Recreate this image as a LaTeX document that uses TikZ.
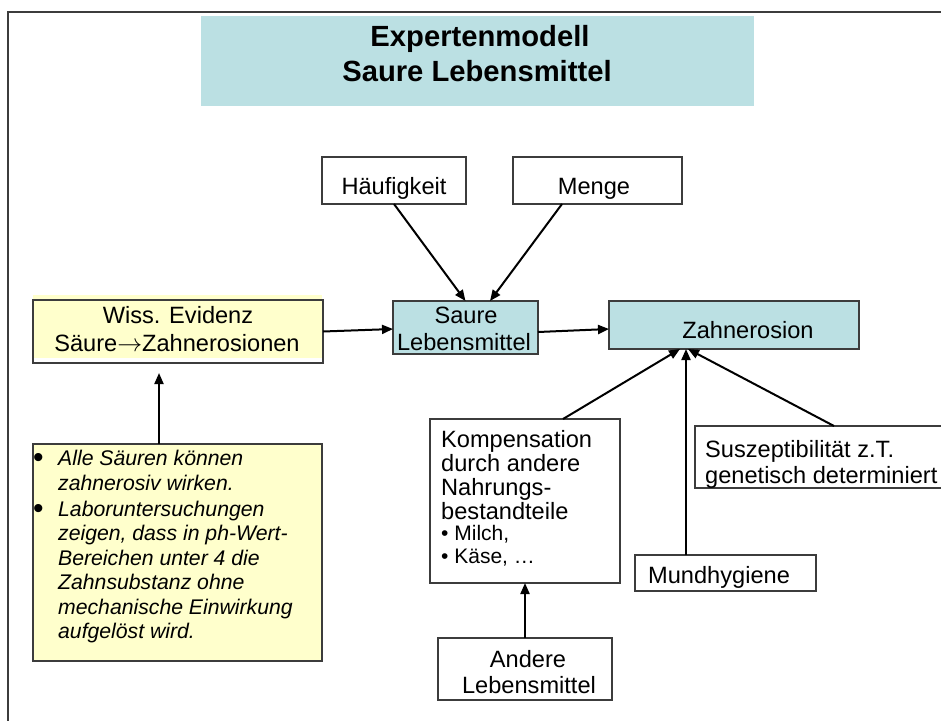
\documentclass[tikz,border=0pt]{standalone}
\usepackage{fontspec}
\setmainfont{Liberation Sans}
\usetikzlibrary{arrows.meta}
\definecolor{tealfill}{HTML}{BBE0E3}
\definecolor{yellowfill}{HTML}{FFFFCC}
\definecolor{edgegray}{HTML}{3C3C3C}
\tikzset{
  box/.style={draw=edgegray, line width=1.1pt, inner sep=0pt, outer sep=0pt},
  conn/.style={line width=2pt, draw=black, -{Triangle[length=11pt,width=9pt]}},
  body/.style={font=\fontsize{23.6}{27}\selectfont, inner sep=0pt, text=black},
  small/.style={font=\fontsize{21}{24}\selectfont, inner sep=0pt, text=black},
  dotfont/.style={font=\fontsize{30}{30}\selectfont, inner sep=0pt, text=black},
  ital/.style={font=\fontsize{21.2}{24}\selectfont\itshape, inner sep=0pt, text=black},
  titletext/.style={font=\fontsize{29.2}{34}\selectfont\bfseries, inner sep=0pt, text=black}
}
\begin{document}
\begin{tikzpicture}[x=1pt, y=-1pt]
\useasboundingbox (0,0) rectangle (941,720);
\clip (0,0) rectangle (941,720);
\fill[white] (0,0) rectangle (941,720);
% outer frame
\draw[edgegray, line width=1.5pt] (8,730) -- (8,12) -- (960,12);
% title
\node[fill=tealfill, inner sep=0pt, minimum width=553pt, minimum height=90pt] (title) at (477.5,61) {};
\node[titletext, anchor=base] (title1) at (480,46) {Expertenmodell};
\node[titletext, anchor=base] (title2) at (477,81) {Saure Lebensmittel};
% boxes
\node[box, minimum width=144pt, minimum height=47pt] (haeuf) at (394,180.5) {};
\node[body, anchor=base] (haeufT) at (394,194) {Häufigkeit};
\node[box, minimum width=169pt, minimum height=47pt] (menge) at (597.5,180.5) {};
\node[body, anchor=base] (mengeT) at (594,194) {Menge};
\fill[yellowfill] (33,295) rectangle (322,358);
\node[box, minimum width=290pt, minimum height=63pt] (wiss) at (178,331.5) {};
\node[body, anchor=base] (wissT1) at (178,323) {Wiss. Evidenz};
\node[body, anchor=base] (wissT2) at (177,351) {Säure$\rightarrow$Zahnerosionen};
\node[box, fill=tealfill, minimum width=145pt, minimum height=53pt] (saure) at (465.5,327.5) {};
\node[body, anchor=base] (saureT1) at (466,323) {Saure};
\node[body, anchor=base] (saureT2) at (464,350) {Lebensmittel};
\node[box, fill=tealfill, minimum width=250pt, minimum height=48pt] (zahn) at (734,325) {};
\node[body, anchor=base] (zahnT) at (748,338) {Zahnerosion};
\node[box, fill=yellowfill, minimum width=289pt, minimum height=217pt] (bullets) at (177.5,552.5) {};
\node[dotfont, anchor=base west] (b1) at (33,467) {•};
\node[dotfont, anchor=base west] (b2) at (33,518) {•};
\node[ital, anchor=base west] (bl1) at (58,465) {Alle Säuren können};
\node[ital, anchor=base west] (bl2) at (58,490) {zahnerosiv wirken.};
\node[ital, anchor=base west] (bl3) at (58,516) {Laboruntersuchungen};
\node[ital, anchor=base west] (bl4) at (58,540) {zeigen, dass in ph-Wert-};
\node[ital, anchor=base west] (bl5) at (58,565) {Bereichen unter 4 die};
\node[ital, anchor=base west] (bl6) at (58,589) {Zahnsubstanz ohne};
\node[ital, anchor=base west] (bl7) at (58,614) {mechanische Einwirkung};
\node[ital, anchor=base west] (bl8) at (58,638) {aufgelöst wird.};
\node[box, fill=white, minimum width=190pt, minimum height=164pt] (komp) at (525,501) {};
\node[body, anchor=base west] (k1) at (441,447) {Kompensation};
\node[body, anchor=base west] (k2) at (441,471) {durch andere};
\node[body, anchor=base west] (k3) at (441,495) {Nahrungs-};
\node[body, anchor=base west] (k4) at (441,519) {bestandteile};
\node[small, anchor=base west] (k5) at (441,540) {• Milch,};
\node[small, anchor=base west] (k6) at (441,563) {• Käse, …};
\node[box, fill=white, minimum width=265pt, minimum height=62pt] (susz) at (827.5,457) {};
\node[body, anchor=base west] (s1) at (705,457) {Suszeptibilität z.T.};
\node[body, anchor=base west] (s2) at (705,483) {genetisch determiniert};
\node[box, fill=white, minimum width=181pt, minimum height=36pt] (mund) at (725.5,573) {};
\node[body, anchor=base west] (mundT) at (648,583) {Mundhygiene};
\node[box, fill=white, minimum width=174pt, minimum height=62pt] (andere) at (525,669) {};
\node[body, anchor=base] (andereT1) at (528,667) {Andere};
\node[body, anchor=base] (andereT2) at (529,693) {Lebensmittel};
% connectors
\draw[conn] (haeuf.south) -- (saure.north);
\draw[conn] ([xshift=-35.5pt]menge.south) -- ([xshift=24.5pt]saure.north);
\draw[conn] (wiss.east) -- ([yshift=-1.5pt]saure.west);
\draw[conn] ([yshift=-4.5pt]saure.east) -- ([yshift=-4pt]zahn.west);
\draw[conn] ([xshift=38pt]komp.north) -- ([xshift=-54pt]zahn.south);
\draw[conn] ([xshift=-39.5pt]mund.north) -- ([xshift=-48pt]zahn.south);
\draw[conn] ([xshift=6.5pt]susz.north) -- ([xshift=-46pt]zahn.south);
\draw[conn] (andere.north) -- (komp.south);
\draw[conn, shorten >=10pt] ([xshift=-18.5pt]bullets.north) -- ([xshift=-19pt]wiss.south);
\end{tikzpicture}
\end{document}
